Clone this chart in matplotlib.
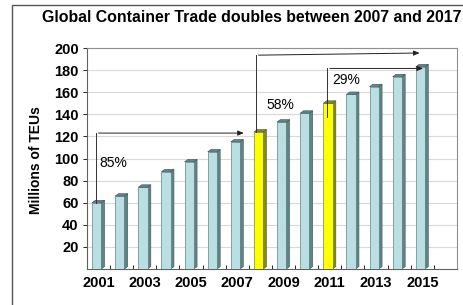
import matplotlib.pyplot as plt
import numpy as np
from matplotlib.patches import Polygon, Rectangle

plt.rcParams['font.family'] = ['Liberation Sans', 'DejaVu Sans']

years = list(range(2001, 2017))
teu = [60, 66, 74, 88, 97, 106, 115, 124, 133, 141, 150, 158, 165, 174, 183]
highlight = [2008, 2011]
tick_years = [2001, 2003, 2005, 2007, 2009, 2011, 2013, 2015]
yticks = [20, 40, 60, 80, 100, 120, 140, 160, 180, 200]

fig = plt.figure(figsize=(4.64, 3.05), dpi=100)
ax = fig.add_axes([87/464, 1-269/305, 370/464, 221/305])

x = np.arange(len(teu))
cols = ['#ffff00' if years[i] in highlight else '#b9dfe2' for i in x]
sides = ['#8c8c00' if years[i] in highlight else '#5f8587' for i in x]

w = 0.40
dx, dy = 0.14, 2.2
off = -0.08
bars = ax.bar(x + off, teu, width=w, color=cols, edgecolor='#4a6668', linewidth=0.4, zorder=3)
for i, b in enumerate(bars):
    x1 = b.get_x() + b.get_width()
    h = b.get_height()
    x0 = b.get_x()
    # side face
    ax.add_patch(Polygon([(x1, 0), (x1 + dx, dy), (x1 + dx, h + dy), (x1, h)],
                         closed=True, facecolor=sides[i], edgecolor='#3d5456', lw=0.4, zorder=2))
    # top face
    ax.add_patch(Polygon([(x0, h), (x0 + dx, h + dy), (x1 + dx, h + dy), (x1, h)],
                         closed=True, facecolor=sides[i], edgecolor='#3d5456', lw=0.4, zorder=4))

ax.set_xlim(-0.5, 15.5)
ax.set_ylim(0, 200)
ax.set_yticks(yticks)
ax.set_yticklabels([str(t) for t in yticks], fontsize=10.5, fontweight='bold')
ax.set_xticks([years.index(y) for y in tick_years])
ax.set_xticklabels([str(y) for y in tick_years], fontsize=10.5, fontweight='bold')
ax.set_xticks(np.arange(-0.5, 16, 1), minor=True)
ax.tick_params(axis='x', which='major', length=0, pad=5)
ax.tick_params(axis='x', which='minor', length=3, direction='in', width=0.6)
ax.tick_params(axis='y', length=3, width=0.6, pad=3)
ax.yaxis.grid(True, color='#d9d9d9', lw=0.8, zorder=0)
ax.set_axisbelow(True)
for s in ax.spines.values():
    s.set_color('#909090')
    s.set_linewidth(0.8)
ax.spines['left'].set_color('#606060')
ax.spines['bottom'].set_color('#606060')

# growth arrows
ak = dict(arrowstyle='-|>,head_length=0.35,head_width=0.15', color='#222222', lw=0.7)
ax.plot([-0.12, -0.12], [teu[0], 123], color='#333333', lw=0.7, zorder=5)
ax.annotate('', xy=(6.4, 123), xytext=(-0.12, 123), arrowprops=ak, zorder=5)
ax.text(0.05, 96, '85%', fontsize=10, va='center', zorder=6)

ax.plot([6.8, 6.8], [teu[7], 193.5], color='#333333', lw=0.7, zorder=5)
ax.annotate('', xy=(14.0, 195.5), xytext=(6.8, 193.5), arrowprops=ak, zorder=5)
ax.text(7.25, 148, '58%', fontsize=10, va='center', zorder=6)

ax.plot([9.88, 9.88], [teu[10] - 12, 181.5], color='#333333', lw=0.7, zorder=5)
ax.annotate('', xy=(14.15, 181.5), xytext=(9.88, 181.5), arrowprops=ak, zorder=5)
ax.text(10.1, 171, '29%', fontsize=10, va='center', zorder=6)

fig.text(36/464, 1-160/305, 'Millions of TEUs', rotation=90, ha='center', va='center',
         fontsize=10, fontweight='bold')
fig.text(42/464, 1-18/305, 'Global Container Trade doubles between 2007 and 2017',
         ha='left', va='center', fontsize=11.4, fontweight='bold')
fig.patches.append(Rectangle((12/464, -0.1), 1.2, 1.1 - 5/305, transform=fig.transFigure,
                             fill=False, edgecolor='#555555', lw=1))

fig.savefig('out.png', dpi=100)
